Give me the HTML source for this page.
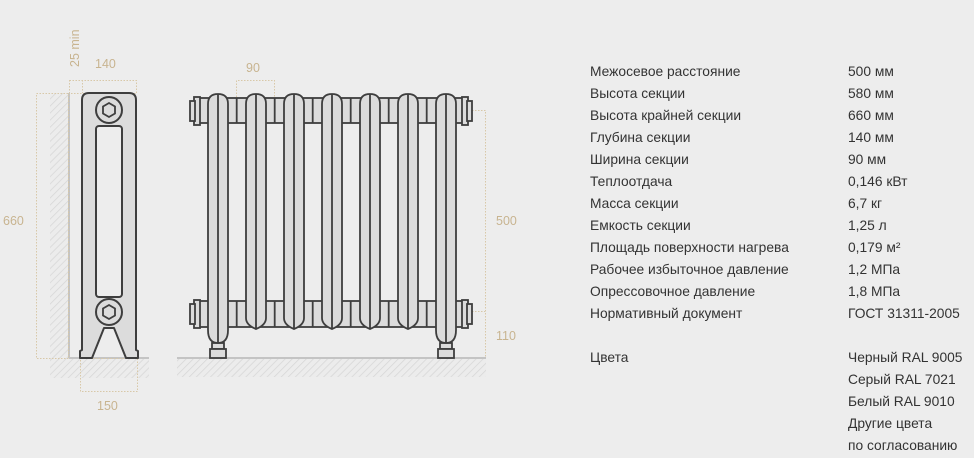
<!DOCTYPE html>
<html><head><meta charset="utf-8"><style>
html,body{margin:0;padding:0;background:#ededed;}
svg{display:block}
text{font-family:"Liberation Sans",sans-serif;}
</style></head><body>
<svg width="974" height="458" viewBox="0 0 974 458" xmlns="http://www.w3.org/2000/svg">
<defs>
<pattern id="h" width="5" height="5" patternUnits="userSpaceOnUse" patternTransform="rotate(45)">
<rect width="5" height="5" fill="#ececec"/><line x1="0" y1="0" x2="0" y2="5" stroke="#d6d6d6" stroke-width="1.5"/>
</pattern>
</defs>
<rect width="974" height="458" fill="#ededed"/>

<!-- SIDE VIEW -->
<rect x="50" y="93" width="19" height="265" fill="url(#h)"/>
<rect x="50" y="358" width="99" height="20" fill="url(#h)"/>
<line x1="69" y1="93" x2="69" y2="358" stroke="#c4c4c4" stroke-width="2"/>
<line x1="69" y1="358" x2="149" y2="358" stroke="#c4c4c4" stroke-width="2"/>
<g fill="none" stroke="#d8c8a8" stroke-width="1" stroke-dasharray="1.5,1.5">
<rect x="36.5" y="93.5" width="32" height="265"/>
<rect x="69.5" y="80.5" width="67" height="13"/>
<line x1="82.5" y1="80" x2="82.5" y2="93"/>
<rect x="80.5" y="358.5" width="57" height="33"/>
</g>
<path d="M82,100 Q82,93 89,93 L129,93 Q136,93 136,100 L136,350 L138,351 L138,358 L126,358 L114,328 L104,328 L92,358 L80,358 L80,351 L82,350 Z" fill="#dcdcdc" stroke="#3e3e3e" stroke-width="2" stroke-linejoin="round"/>
<rect x="96" y="126" width="26" height="171" rx="3" fill="#ededed" stroke="#3e3e3e" stroke-width="2"/>
<circle cx="109" cy="110" r="13" fill="#dcdcdc" stroke="#3e3e3e" stroke-width="2"/>
<polygon points="109,103 115,106.5 115,113.5 109,117 103,113.5 103,106.5" fill="#dcdcdc" stroke="#3e3e3e" stroke-width="1.8"/>
<circle cx="109" cy="312" r="13" fill="#dcdcdc" stroke="#3e3e3e" stroke-width="2"/>
<polygon points="109,305 115,308.5 115,315.5 109,319 103,315.5 103,308.5" fill="#dcdcdc" stroke="#3e3e3e" stroke-width="1.8"/>
<g fill="#c8b490" font-size="12.5">
<text x="3" y="225">660</text>
<text x="95" y="68">140</text>
<text x="97" y="410">150</text>
<text transform="translate(79,67) rotate(-90)">25 min</text>
<text x="246" y="72">90</text>
<text x="496" y="225">500</text>
<text x="496" y="340">110</text>
</g>

<!-- FRONT VIEW -->
<rect x="177" y="358" width="309" height="19" fill="url(#h)"/>
<line x1="177" y1="358" x2="486" y2="358" stroke="#c4c4c4" stroke-width="2"/>
<g fill="none" stroke="#d8c8a8" stroke-width="1" stroke-dasharray="1.5,1.5">
<path d="M236.5,97 V80.5 H274.5 V97"/>
<path d="M472,110.5 H485.5 V311 M472,311.5 H485.5 V358"/>
</g>
<g stroke="#3e3e3e" stroke-width="1.8" fill="#dcdcdc">
<rect x="196" y="98" width="270" height="25"/>
<rect x="196" y="301" width="270" height="26"/>
<rect x="194" y="97" width="6" height="28"/><rect x="190" y="101" width="5" height="20"/>
<rect x="462" y="97" width="6" height="28"/><rect x="467" y="101" width="5" height="20"/>
<rect x="194" y="300" width="6" height="28"/><rect x="190" y="304" width="5" height="20"/>
<rect x="462" y="300" width="6" height="28"/><rect x="467" y="304" width="5" height="20"/>
<g fill="none">
<path d="M236.7,98V123M274.7,98V123M312.7,98V123M350.7,98V123M388.7,98V123M426.7,98V123"/>
<path d="M236.7,301V327M274.7,301V327M312.7,301V327M350.7,301V327M388.7,301V327M426.7,301V327"/>
</g>
<rect x="212" y="343" width="12" height="6"/><rect x="210" y="349" width="16" height="9"/>
<rect x="440" y="343" width="12" height="6"/><rect x="438" y="349" width="16" height="9"/>
<path d="M208,104 Q208,94 218,94 Q228,94 228,104 L228,330 Q228,343 218,343 Q208,343 208,330 Z"/>
<line x1="218" y1="94" x2="218" y2="343"/>
<path d="M246,104 Q246,94 256,94 Q266,94 266,104 L266,318 Q266,325 256,329 Q246,325 246,318 Z"/>
<line x1="256" y1="94" x2="256" y2="329"/>
<path d="M284,104 Q284,94 294,94 Q304,94 304,104 L304,318 Q304,325 294,329 Q284,325 284,318 Z"/>
<line x1="294" y1="94" x2="294" y2="329"/>
<path d="M322,104 Q322,94 332,94 Q342,94 342,104 L342,318 Q342,325 332,329 Q322,325 322,318 Z"/>
<line x1="332" y1="94" x2="332" y2="329"/>
<path d="M360,104 Q360,94 370,94 Q380,94 380,104 L380,318 Q380,325 370,329 Q360,325 360,318 Z"/>
<line x1="370" y1="94" x2="370" y2="329"/>
<path d="M398,104 Q398,94 408,94 Q418,94 418,104 L418,318 Q418,325 408,329 Q398,325 398,318 Z"/>
<line x1="408" y1="94" x2="408" y2="329"/>
<path d="M436,104 Q436,94 446,94 Q456,94 456,104 L456,330 Q456,343 446,343 Q436,343 436,330 Z"/>
<line x1="446" y1="94" x2="446" y2="343"/>
</g>

<!-- TABLE -->
<g fill="#333" font-size="13.8">
<text x="590" y="76">Межосевое расстояние</text><text x="848" y="76">500 мм</text>
<text x="590" y="98">Высота секции</text><text x="848" y="98">580 мм</text>
<text x="590" y="120">Высота крайней секции</text><text x="848" y="120">660 мм</text>
<text x="590" y="142">Глубина секции</text><text x="848" y="142">140 мм</text>
<text x="590" y="164">Ширина секции</text><text x="848" y="164">90 мм</text>
<text x="590" y="186">Теплоотдача</text><text x="848" y="186">0,146 кВт</text>
<text x="590" y="208">Масса секции</text><text x="848" y="208">6,7 кг</text>
<text x="590" y="230">Емкость секции</text><text x="848" y="230">1,25 л</text>
<text x="590" y="252">Площадь поверхности нагрева</text><text x="848" y="252">0,179 м²</text>
<text x="590" y="274">Рабочее избыточное давление</text><text x="848" y="274">1,2 МПа</text>
<text x="590" y="296">Опрессовочное давление</text><text x="848" y="296">1,8 МПа</text>
<text x="590" y="318">Нормативный документ</text><text x="848" y="318">ГОСТ 31311-2005</text>
<text x="590" y="362">Цвета</text><text x="848" y="362">Черный RAL 9005</text>
<text x="848" y="384">Серый RAL 7021</text>
<text x="848" y="406">Белый RAL 9010</text>
<text x="848" y="428">Другие цвета</text>
<text x="848" y="450">по согласованию</text>
</g>
</svg>
</body></html>
